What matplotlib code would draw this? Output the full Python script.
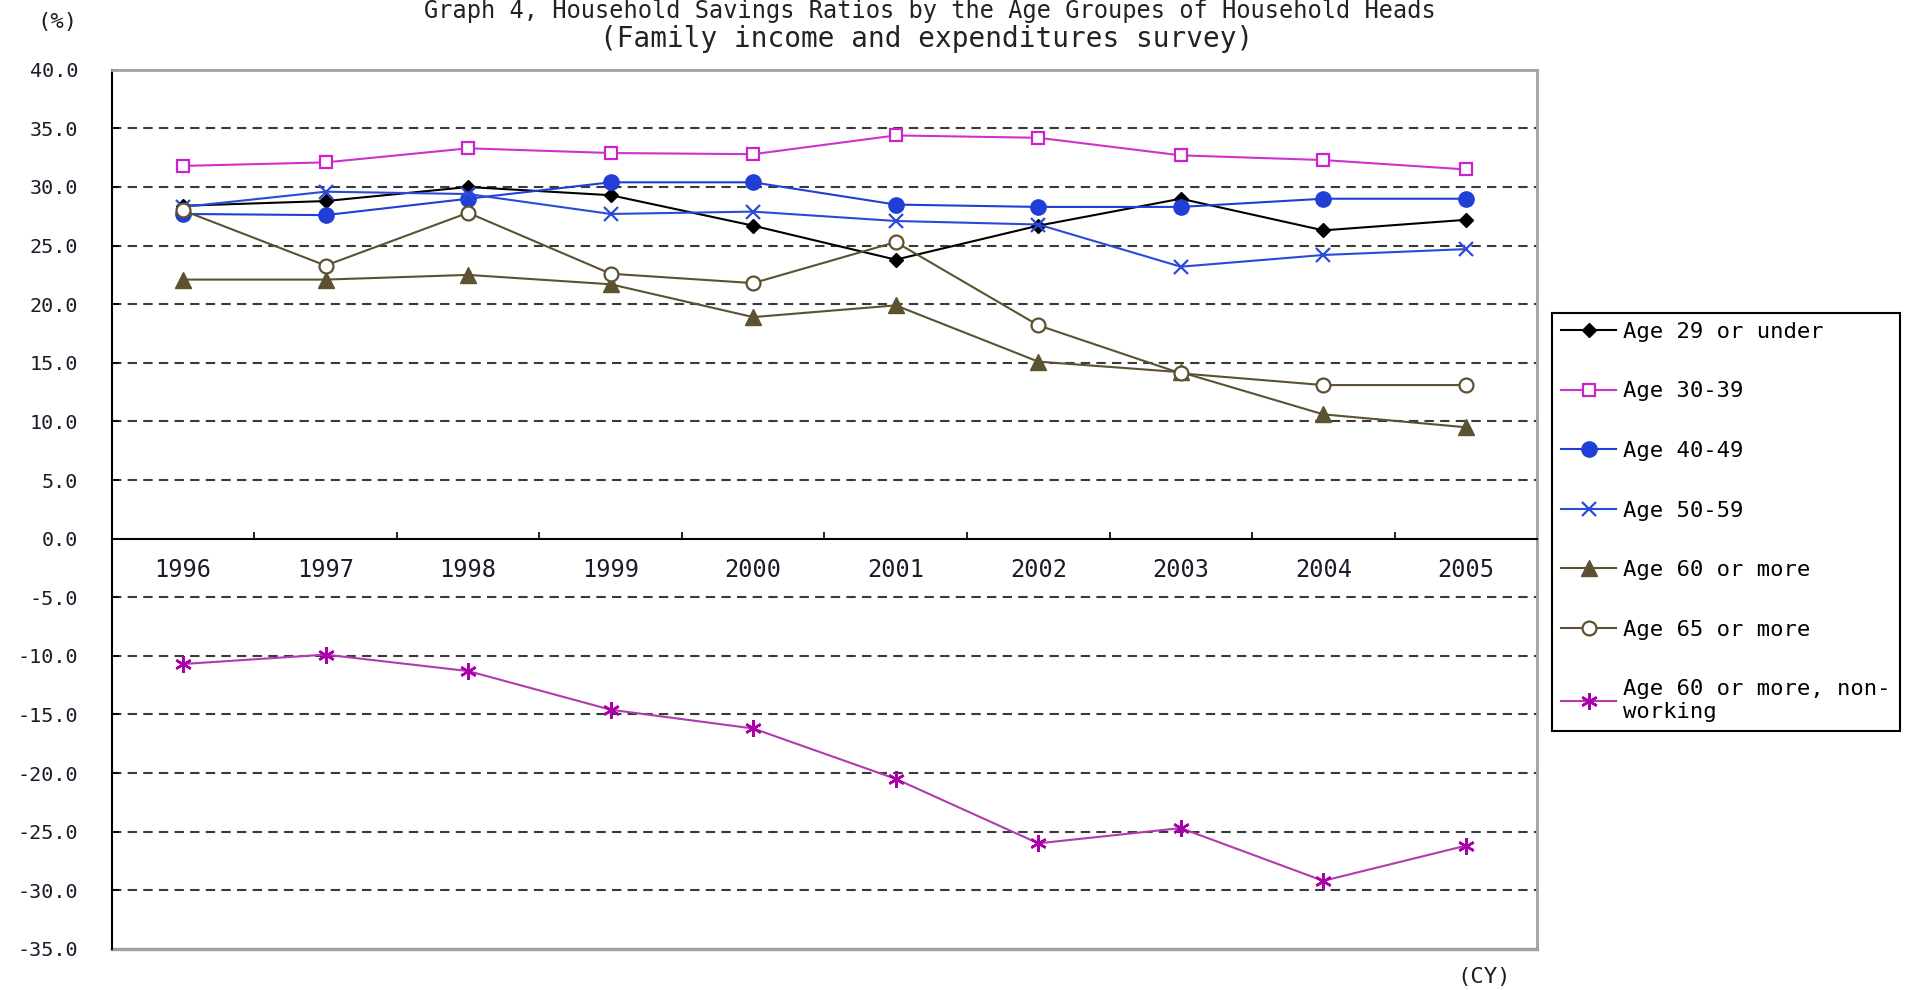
import matplotlib.pyplot as plt
import numpy as np

plt.rcParams['font.family'] = ['DejaVu Sans Mono']

years = ['1996', '1997', '1998', '1999', '2000', '2001', '2002', '2003', '2004', '2005']

age_29_under = [28.4, 28.8, 30.0, 29.3, 26.7, 23.8, 26.7, 29.0, 26.3, 27.2]
age_30_39 = [31.8, 32.1, 33.3, 32.9, 32.8, 34.4, 34.2, 32.7, 32.3, 31.5]
age_40_49 = [27.7, 27.6, 29.0, 30.4, 30.4, 28.5, 28.3, 28.3, 29.0, 29.0]
age_50_59 = [28.3, 29.6, 29.4, 27.7, 27.9, 27.1, 26.8, 23.2, 24.2, 24.7]
age_60_more = [22.1, 22.1, 22.5, 21.7, 18.9, 19.9, 15.1, 14.2, 10.6, 9.5]
age_65_more = [28.0, 23.3, 27.8, 22.6, 21.8, 25.3, 18.2, 14.1, 13.1, 13.1]
age_60_nonworking = [-10.7, -9.9, -11.3, -14.6, -16.2, -20.5, -26.0, -24.7, -29.2, -26.2]

labels = ['Age 29 or under', 'Age 30-39', 'Age 40-49', 'Age 50-59',
          'Age 60 or more', 'Age 65 or more', 'Age 60 or more, non-\nworking']

olive = '#5c5232'
styles = [
    dict(color='black', marker='D', ms=7, mfc='black', mec='black'),
    dict(color='#cc33cc', marker='s', ms=9, mfc='white', mec='#cc22cc', mew=1.6),
    dict(color='#1f3fd6', marker='o', ms=11, mfc='#1f3fd6', mec='#1f3fd6'),
    dict(color='#2a4ad8', marker='x', ms=10, mec='#2a4ad8', mew=1.6),
    dict(color=olive, marker='^', ms=11, mfc=olive, mec=olive),
    dict(color=olive, marker='o', ms=10, mfc='white', mec=olive, mew=1.6),
    dict(color='#b03ab0', marker=(6, 2, 0), ms=12, mec='#aa00aa', mew=1.8),
]
series = [age_29_under, age_30_39, age_40_49, age_50_59,
          age_60_more, age_65_more, age_60_nonworking]

fig = plt.figure(figsize=(19.14, 9.9), dpi=100)
ax = fig.add_axes([0.0584, 0.0416, 0.7447, 0.8879])

x = np.arange(len(years))
for vals, lab, st in zip(series, labels, styles):
    ax.plot(x, vals, lw=1.5, label=lab, zorder=3, **st)

ax.set_xlim(-0.5, len(years) - 0.5)
ax.set_ylim(-35, 40)

# dashed gridlines, skipping the frame and the zero axis
for v in range(-30, 40, 5):
    if v != 0:
        ax.axhline(v, color='#3a3a3a', lw=1.5, ls=(0, (4.5, 3)), zorder=1)

yt = np.arange(-35, 41, 5)
ax.set_yticks(yt, [f'{v:.1f}' for v in yt])
ax.tick_params(axis='y', direction='in', length=5, width=1.2, pad=24,
               labelsize=14.5, labelcolor='#1c1c28')

# category axis sits on zero, ticks between the years
ax.spines['bottom'].set_position(('data', 0))
ax.set_xticks(x, years)
ax.set_xticks(np.arange(0.5, len(years) - 1), minor=True)
ax.tick_params(axis='x', which='major', length=0, pad=14,
               labelsize=17, labelcolor='#1c1c28')
ax.tick_params(axis='x', which='minor', direction='in', length=5, width=1.2)

for s in ['left', 'bottom']:
    ax.spines[s].set_color('black')
    ax.spines[s].set_linewidth(1.5)
for s in ['top', 'right']:
    ax.spines[s].set_color('#a8a0a0')
    ax.spines[s].set_linewidth(2)
ax.axhline(-35, color='#a8a0a0', lw=2.5, clip_on=False, zorder=2)

fig.text(930 / 1914, 1 - 18 / 990,
         'Graph 4, Household Savings Ratios by the Age Groupes of Household Heads',
         ha='center', va='baseline', fontsize=17, color='#222222')
fig.text(927 / 1914, 1 - 47 / 990, '(Family income and expenditures survey)',
         ha='center', va='baseline', fontsize=20, color='#222222')
fig.text(57 / 1914, 1 - 22 / 990, '(%)', ha='center', va='center',
         fontsize=16, color='#1c1c28')
fig.text(1484 / 1914, 1 - 977 / 990, '(CY)', ha='center', va='center',
         fontsize=16, color='#1c1c28')

leg = fig.legend(loc='upper left', bbox_to_anchor=(1552 / 1914, 1 - 313 / 990),
                 borderaxespad=0, fontsize=16, frameon=True, fancybox=False,
                 edgecolor='black', framealpha=1, handlelength=2.5,
                 handletextpad=0.3, labelspacing=1.78, borderpad=0.4)
leg.get_frame().set_linewidth(1.5)

fig.savefig('out.png', dpi=100)
